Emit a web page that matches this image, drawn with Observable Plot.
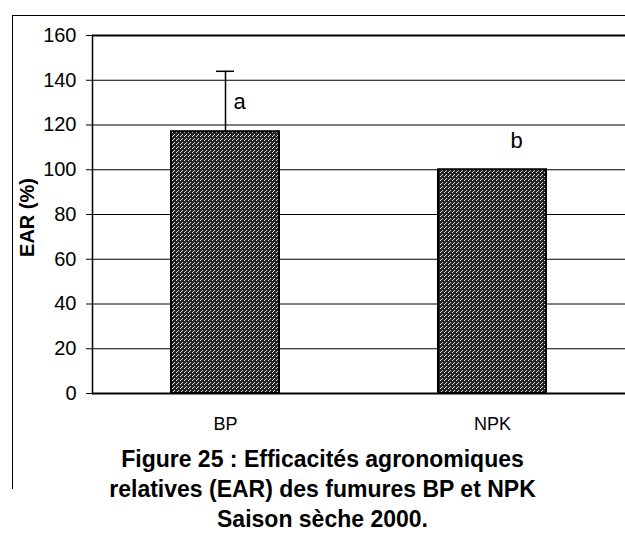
<!DOCTYPE html>
<html>
<head>
<meta charset="utf-8">
<script src="https://cdn.jsdelivr.net/npm/d3@7"></script>
<script src="https://cdn.jsdelivr.net/npm/@observablehq/plot@0.6"></script>
<style>
  html, body { margin: 0; padding: 0; background: #fff; }
  #wrap { position: relative; width: 625px; height: 540px; overflow: hidden; font-family: "Liberation Sans", Arial, sans-serif; }
  #frame { position: absolute; left: 12px; top: 15px; width: 640px; height: 473px; border-left: 1.5px solid #000; border-top: 1.5px solid #000; }
  #chart { position: absolute; left: 0; top: 0; }
  #caption { position: absolute; left: 0; top: 444px; width: 625px; padding-left: 20px; box-sizing: border-box; text-align: center; font-weight: bold; font-size: 23px; line-height: 30px; color: #000; }
</style>
</head>
<body>
<div id="wrap">
  <div id="frame"></div>
  <div id="chart"></div>
  <div id="caption">Figure 25 : Efficacités agronomiques<br>relatives (EAR) des fumures BP et NPK<br>Saison sèche 2000.</div>
</div>
<script>
const categories = ["BP", "NPK"];
const values = [117, 100];
const errorTop = [144, null];
const letters = ["a", "b"];
const yTicks = [0, 20, 40, 60, 80, 100, 120, 140, 160];
const yLabel = "EAR (%)";

const data = categories.map((c, i) => ({cat: c, value: values[i], err: errorTop[i], letter: letters[i]}));
const errData = data.filter(d => d.err != null);

const plot = Plot.plot({
  width: 625,
  height: 440,
  marginLeft: 92,
  marginRight: 0,
  marginTop: 35,
  marginBottom: 47,
  style: {fontFamily: "'Liberation Sans', Arial, sans-serif", color: "#000", background: "transparent"},
  x: {domain: categories, paddingInner: 0.5955, paddingOuter: 0.2958},
  y: {domain: [0, 160]},
  marks: [
    Plot.gridY(yTicks, {stroke: "#000", strokeOpacity: 1, strokeWidth: 1}),
    Plot.ruleY([160], {stroke: "#000", strokeWidth: 2}),
    Plot.barY(data, {x: "cat", y: "value", fill: "url(#bartex)", stroke: "#000", strokeWidth: 2}),
    Plot.ruleX(errData, {x: "cat", y1: "value", y2: "err", stroke: "#000", strokeWidth: 1.5}),
    Plot.tickY(errData, {x: "cat", y: "err", stroke: "#000", strokeWidth: 1.5, insetLeft: 45, insetRight: 45}),
    Plot.ruleY([0], {stroke: "#000", strokeWidth: 2}),
    Plot.frame({anchor: "left", stroke: "#000", strokeWidth: 1.5}),
    Plot.axisY({ticks: yTicks, tickSize: 6, tickPadding: 10, fontSize: 20, label: null}),
    Plot.axisX({tickSize: 0, tickPadding: 24, fontSize: 18, label: null}),
    Plot.text(data.filter(d => d.letter === "a"), {x: "cat", y: "value", text: "letter", textAnchor: "start", lineAnchor: "bottom", dx: 8, dy: -23, fontSize: 22}),
    Plot.text(data.filter(d => d.letter === "b"), {x: "cat", y: "value", text: "letter", textAnchor: "start", lineAnchor: "bottom", dx: 18, dy: -22, fontSize: 22}),
    Plot.text([yLabel], {frameAnchor: "left", textAnchor: "middle", rotate: -90, dx: -65, dy: 3, fontSize: 20, fontWeight: "bold", text: d => d, letterSpacing: "1px"})
  ]
});

// texture pattern for the bars
const ns = "http://www.w3.org/2000/svg";
const defs = document.createElementNS(ns, "defs");
const pat = document.createElementNS(ns, "pattern");
pat.setAttribute("id", "bartex");
pat.setAttribute("patternUnits", "userSpaceOnUse");
pat.setAttribute("width", "4");
pat.setAttribute("height", "4");
const bg = document.createElementNS(ns, "rect");
bg.setAttribute("width", "4"); bg.setAttribute("height", "4"); bg.setAttribute("fill", "#222");
pat.appendChild(bg);
[[0,0],[2,2],[1,3]].forEach(([px, py]) => {
  const r = document.createElementNS(ns, "rect");
  r.setAttribute("x", px); r.setAttribute("y", py);
  r.setAttribute("width", "1"); r.setAttribute("height", "1");
  r.setAttribute("fill", "#e8e8e8");
  pat.appendChild(r);
});
defs.appendChild(pat);
plot.insertBefore(defs, plot.firstChild);

document.getElementById("chart").appendChild(plot);
</script>
</body>
</html>
